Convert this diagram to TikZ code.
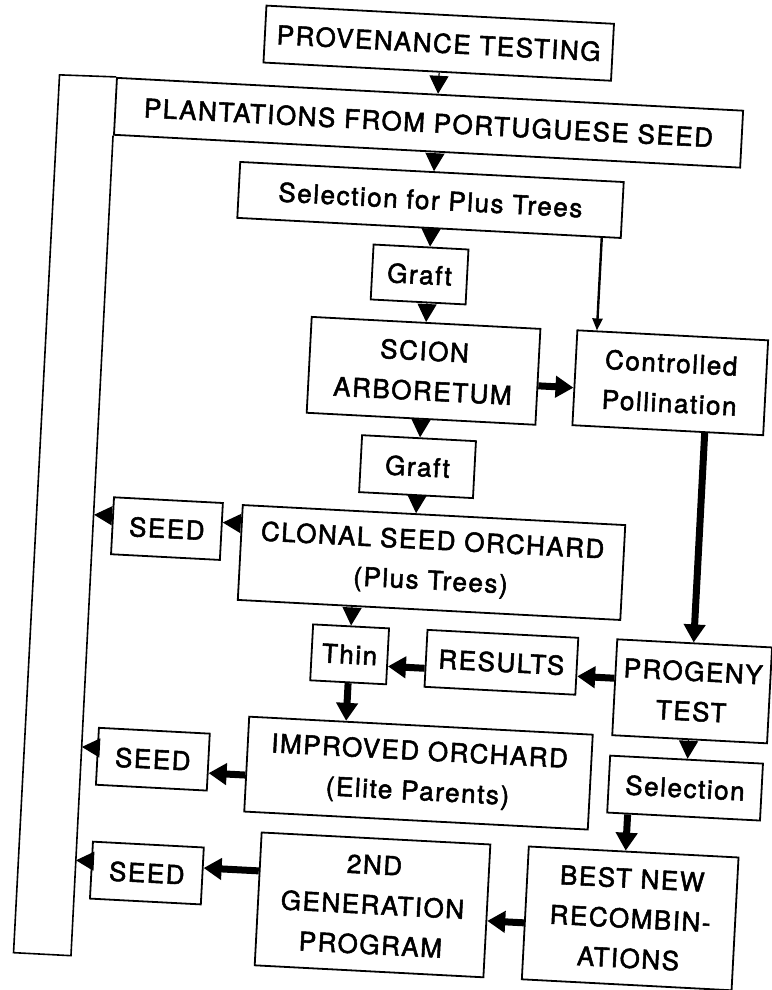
\documentclass[tikz,border=0pt]{standalone}
\usepackage{fontspec}
\usetikzlibrary{arrows.meta,calc}
\newfontfamily\boxfont[LetterSpace=6,FakeBold=2]{TeX Gyre Heros}
\begin{document}
\begin{tikzpicture}[x=1pt,y=-1pt,
  box/.style={draw, line width=1.8pt, inner sep=0pt, align=center, font=\boxfont\fontsize{26}{40}\selectfont},
  tri/.style={line width=1.2pt, -{Triangle[width=19pt,length=18pt]}},
  thickarrow/.style={line width=7pt, -{Triangle[width=21pt,length=18pt]}},
  thinarrow/.style={line width=2.4pt, -{Triangle[width=10pt,length=12pt]}},
  frameline/.style={line width=1.6pt}]
\fill[white] (0,0) rectangle (771,990);
\useasboundingbox (0,0) rectangle (771,990);
\begin{scope}[rotate around={-3:(385.5,495)}, transform shape]
\node[box, minimum width=348pt, minimum height=57pt] (prov) at (415,41) {PROVENANCE TESTING};
\node[box, minimum width=627pt, minimum height=57pt] (plant) at (409,121) {PLANTATIONS FROM PORTUGUESE SEED};
\node[box, minimum width=384pt, minimum height=56pt] (sel1) at (415,198) {Selection for Plus Trees};
\node[box, minimum width=95pt, minimum height=55pt] (graft1) at (408,273) {Graft};
\node[box, minimum width=229pt, minimum height=96pt] (scion) at (417,369) {SCION\\ARBORETUM};
\node[box, minimum width=191pt, minimum height=95pt] (ctrl) at (664,368) {Controlled\\Pollination};
\node[box, minimum width=114pt, minimum height=57pt] (graft2) at (416,465) {Graft};
\node[box, minimum width=383pt, minimum height=95pt] (clonal) at (435,560) {CLONAL SEED ORCHARD\\(Plus Trees)};
\node[box, minimum width=109pt, minimum height=57pt] (seed1) at (169,540) {SEED};
\node[box, minimum width=76pt, minimum height=56pt] (thin) at (358,656) {Thin};
\node[box, minimum width=151pt, minimum height=57pt] (results) at (510,656) {RESULTS};
\node[box, minimum width=155pt, minimum height=96pt] (progeny) at (702,675) {PROGENY\\TEST};
\node[box, minimum width=344pt, minimum height=95pt] (improved) at (433,771) {IMPROVED ORCHARD\\(Elite Parents)};
\node[box, minimum width=111pt, minimum height=57pt] (seed2) at (167,771) {SEED};
\node[box, minimum width=153pt, minimum height=57pt] (sel2) at (700,772) {Selection};
\node[box, minimum width=229pt, minimum height=133pt] (second) at (394,905) {2ND\\GENERATION\\PROGRAM};
\node[box, minimum width=210pt, minimum height=133pt] (best) at (652,905) {BEST NEW\\RECOMBIN-\\ATIONS};
\node[box, minimum width=111pt, minimum height=57pt] (seed3) at (167,885) {SEED};
% frame
\coordinate (fo1) at (38,92.5);
\coordinate (fo2) at (38,971.5);
\coordinate (fi2) at (95.5,971.5);
\coordinate (f1) at (95.5,530);
\coordinate (f2) at (95.5,762.5);
\coordinate (f3) at (95.5,876);
\draw[frameline] (plant.north west) -- (fo1) -- (fo2) -- (fi2) -- (plant.south west);
% connectors
\draw[tri] ($(prov.south)!2pt!(prov.south east)$) -- ($(plant.north)!8pt!(plant.north east)$);
\draw[tri] ($(plant.south)!8pt!(plant.south east)$) -- ($(sel1.north)!2pt!(sel1.north east)$);
\draw[tri] ($(sel1.south)!2pt!(sel1.south east)$) -- ($(graft1.north)!9pt!(graft1.north east)$);
\draw[tri] ($(graft1.south)!9pt!(graft1.south east)$) -- (scion.north);
\draw[tri] (scion.south) -- ($(graft2.north)!1pt!(graft2.north east)$);
\draw[tri] ($(graft2.south)!1pt!(graft2.south east)$) -- ($(clonal.north)!18pt!(clonal.north west)$);
\draw[tri] ($(clonal.south)!77pt!(clonal.south west)$) -- (thin.north);
\draw[thickarrow] (thin.south) -- ($(improved.north)!75pt!(improved.north west)$);
\draw[thinarrow] ($(sel1.south)!173pt!(sel1.south east)$) -- ($(ctrl.north)!76pt!(ctrl.north west)$);
\draw[thickarrow] ($(scion.east)!9pt!(scion.south east)$) -- ($(ctrl.west)!10pt!(ctrl.south west)$);
\draw[thickarrow] ($(ctrl.south)!37pt!(ctrl.south east)$) -- ($(progeny.north)!1pt!(progeny.north west)$);
\draw[thickarrow] ($(progeny.west)!9pt!(progeny.north west)$) -- ($(results.east)!10pt!(results.south east)$);
\draw[thickarrow] ($(results.west)!10pt!(results.south west)$) -- ($(thin.east)!10pt!(thin.south east)$);
\draw[tri] ($(progeny.south)!1pt!(progeny.south west)$) -- ($(sel2.north)!1pt!(sel2.north east)$);
\draw[thickarrow] ($(sel2.south)!56pt!(sel2.south west)$) -- ($(best.north)!8pt!(best.north west)$);
\draw[thickarrow] ($(best.west)!10pt!(best.south west)$) -- ($(second.east)!10pt!(second.south east)$);
\draw[tri] ($(clonal.west)!29pt!(clonal.north west)$) -- ($(seed1.east)!9pt!(seed1.north east)$);
\draw[tri] ($(seed1.west)!10pt!(seed1.north west)$) -- (f1);
\draw[thickarrow] ($(improved.west)!11pt!(improved.south west)$) -- ($(seed2.east)!11pt!(seed2.south east)$);
\draw[tri] ($(seed2.west)!8.5pt!(seed2.north west)$) -- (f2);
\draw[thickarrow] ($(second.west)!28pt!(second.north west)$) -- ($(seed3.east)!8pt!(seed3.north east)$);
\draw[tri] ($(seed3.west)!9pt!(seed3.north west)$) -- (f3);
\end{scope}
\end{tikzpicture}
\end{document}
